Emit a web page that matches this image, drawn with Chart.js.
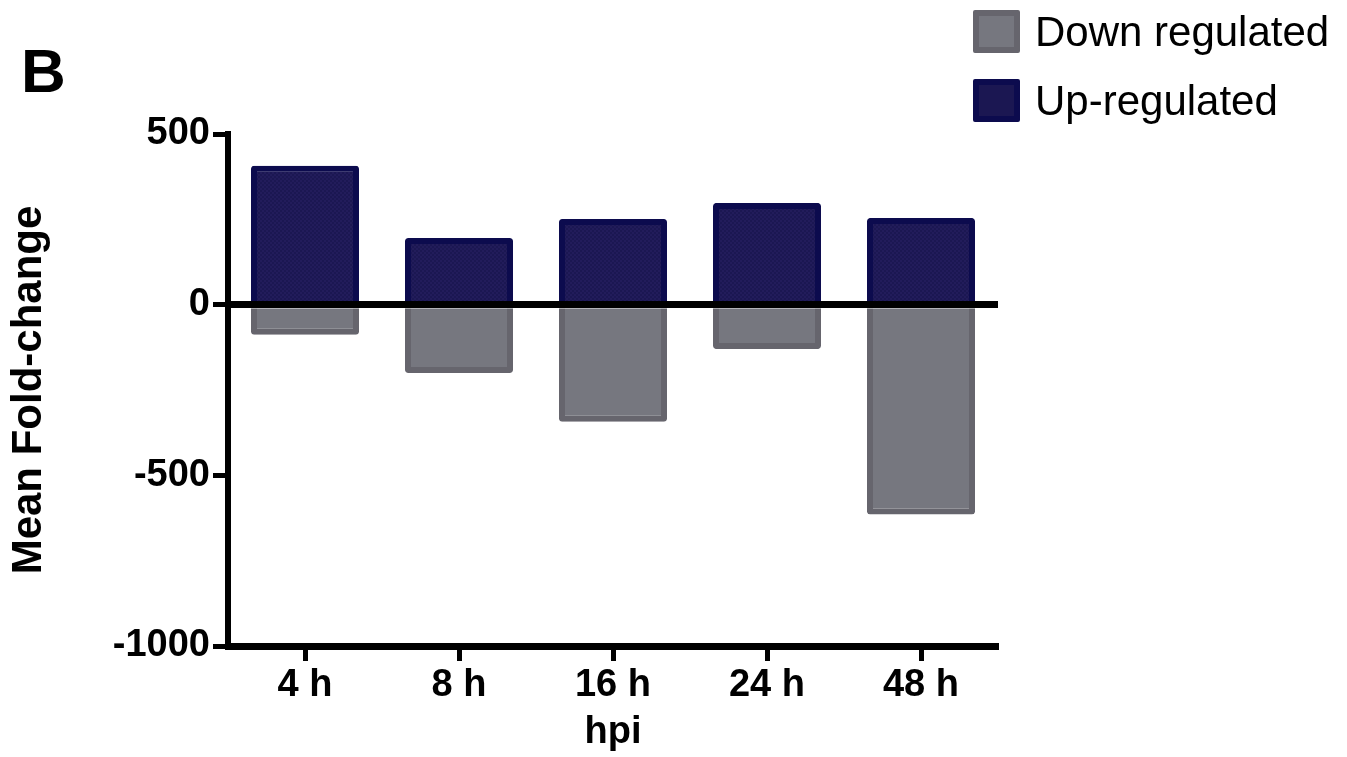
<!DOCTYPE html>
<html>
<head>
<meta charset="utf-8">
<script src="https://cdn.jsdelivr.net/npm/chart.js@4.4.1/dist/chart.umd.min.js"></script>
<style>
  html, body { margin: 0; padding: 0; background: #fff; }
  #wrap { position: relative; width: 1347px; height: 757px; overflow: hidden;
          font-family: 'Liberation Sans', Arial, sans-serif; color: #000; }
  #chart { position: absolute; left: 0; top: 0; }
  #panel { position: absolute; left: 21px; top: 40px; font-weight: bold; font-size: 62px; line-height: 1; }
  .leg { position: absolute; left: 973px; display: flex; align-items: center; font-size: 42px; line-height: 1; }
  .leg .box { width: 47px; height: 43px; box-sizing: border-box; border: 6px solid; border-radius: 2px; margin-right: 15px; }
</style>
</head>
<body>
<div id="wrap">
  <canvas id="chart" width="1347" height="757"></canvas>
  <div id="panel">B</div>
  <div id="legend"></div>
</div>
<script>
// Time points (hours post infection) and mean fold-change per group
const categories = ['4 h', '8 h', '16 h', '24 h', '48 h'];
const upRegulated = [407, 195, 251, 298, 254];
const downRegulated = [-88, -200, -343, -130, -615];
const yTicks = [-1000, -500, 0, 500];

const FONT = "'Liberation Sans', Arial, sans-serif";
const DOWN_FILL = '#76777f', DOWN_EDGE = '#66656d';
const UP_FILL = '#1b1752', UP_EDGE = '#0c0b4e';

// fine checker texture for the navy bars
function checker(a, b) {
  const c = document.createElement('canvas');
  c.width = 4; c.height = 4;
  const g = c.getContext('2d');
  g.fillStyle = a; g.fillRect(0, 0, 4, 4);
  g.fillStyle = b; g.fillRect(0, 0, 2, 2); g.fillRect(2, 2, 2, 2);
  return g.createPattern(c, 'repeat');
}
const navyPattern = checker(UP_FILL, '#221c5b');

const chart = new Chart(document.getElementById('chart'), {
  type: 'bar',
  data: {
    labels: categories,
    datasets: [
      { label: 'Down regulated', data: downRegulated, backgroundColor: DOWN_FILL,
        borderColor: DOWN_EDGE, borderWidth: 6, borderRadius: 3, inflateAmount: 0, swatch: DOWN_FILL },
      { label: 'Up-regulated', data: upRegulated, backgroundColor: navyPattern,
        borderColor: UP_EDGE, borderWidth: 6, borderRadius: 3, inflateAmount: 0, swatch: UP_FILL }
    ]
  },
  options: {
    responsive: false,
    animation: false,
    layout: { padding: { top: 134, right: 349, bottom: 0, left: 0 } },
    plugins: { legend: { display: false }, tooltip: { enabled: false } },
    // 108 px bars inside 154 px category slots
    datasets: { bar: { categoryPercentage: 1, barPercentage: 108 / 154 } },
    scales: {
      x: {
        stacked: true,
        offset: true,
        grid: { drawOnChartArea: false, offset: false, tickLength: 15, tickWidth: 5, tickColor: '#000' },
        border: { display: true, color: '#000', width: 7 },
        ticks: { color: '#000', font: { family: FONT, size: 38, weight: 'bold' }, padding: 2,
                 maxRotation: 0, autoSkip: false },
        title: { display: true, text: 'hpi', color: '#000',
                 font: { family: FONT, size: 38, weight: 'bold' }, padding: { top: 0, bottom: 2 } },
        afterFit(s) { s.height = 111; }
      },
      y: {
        stacked: true,
        min: -1000,
        max: 500,
        afterBuildTicks(s) { s.ticks = yTicks.map(v => ({ value: v })); },
        // zero line sits above the bars, so grid and axis line share the upper layer
        grid: {
          z: 1,
          color: c => (c.tick && c.tick.value === 0) ? '#000' : 'rgba(0,0,0,0)',
          lineWidth: c => (c.tick && c.tick.value === 0) ? 7 : 1,
          tickLength: 15, tickWidth: 5, tickColor: '#000'
        },
        border: { display: true, color: '#000', width: 6, z: 1 },
        ticks: { color: '#000', font: { family: FONT, size: 38, weight: 'bold' }, padding: 3,
                 callback: v => String(v) },
        title: { display: true, text: 'Mean Fold-change', color: '#000',
                 font: { family: FONT, size: 42, weight: 'bold' }, padding: { top: 4, bottom: 0 } },
        afterFit(s) { s.width = 228; }
      }
    }
  }
});

// legend built from the chart's datasets
const legendTops = [10, 79];
const legend = document.getElementById('legend');
chart.data.datasets.forEach((ds, i) => {
  const item = document.createElement('div');
  item.className = 'leg';
  item.style.top = legendTops[i] + 'px';
  const box = document.createElement('span');
  box.className = 'box';
  box.style.background = ds.swatch;
  box.style.borderColor = ds.borderColor;
  const txt = document.createElement('span');
  txt.textContent = ds.label;
  item.appendChild(box);
  item.appendChild(txt);
  legend.appendChild(item);
});
</script>
</body>
</html>
